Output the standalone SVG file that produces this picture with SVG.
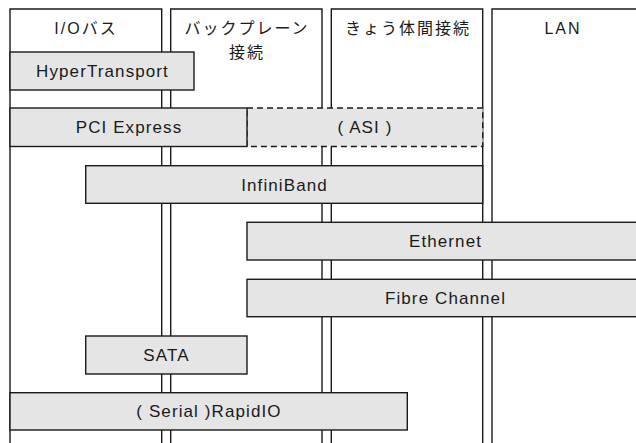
<svg xmlns="http://www.w3.org/2000/svg" width="636" height="443" viewBox="0 0 636 443">
<style>
.col{fill:#fff;stroke:#1a1a1a;stroke-width:1.4}
.bar{fill:#e5e5e5;stroke:#1a1a1a;stroke-width:1.4}
.dash{fill:#e5e5e5;stroke:#1a1a1a;stroke-width:1.4;stroke-dasharray:6 4}
text{font-family:"Liberation Sans","Noto Sans CJK JP",Arial,sans-serif;font-size:17px;fill:#1a1a1a;text-anchor:middle;letter-spacing:1.1px}
.h{font-size:16px;letter-spacing:2px}
</style>
<rect width="636" height="443" fill="#fff"/>
<g id="col-io">
<path class="col" d="M10 445 V9 H161.7 V445"/>
<text class="h" x="86" y="34">I/Oバス</text>
</g>
<g id="col-backplane">
<path class="col" d="M170.7 445 V9 H322 V445"/>
<text class="h" x="247" y="34">バックプレーン</text>
<text class="h" x="247" y="58">接続</text>
</g>
<g id="col-chassis">
<path class="col" d="M331.3 445 V9 H482.7 V445"/>
<text class="h" x="408" y="34">きょう体間接続</text>
</g>
<g id="col-lan">
<path class="col" d="M492 445 V9 H650"/>
<text class="h" x="563" y="34">LAN</text>
</g>
<g id="hypertransport">
<rect class="bar" x="10" y="52" width="184" height="38"/>
<text x="102.5" y="77">HyperTransport</text>
</g>
<g id="asi">
<rect class="dash" x="247" y="108" width="235.7" height="38.5"/>
<text x="365" y="133">( ASI )</text>
</g>
<g id="pci-express">
<rect class="bar" x="10" y="108" width="237" height="38.5"/>
<text x="129" y="133">PCI Express</text>
</g>
<g id="infiniband">
<rect class="bar" x="85.7" y="165.7" width="397" height="37.6"/>
<text x="284.5" y="190.5">InfiniBand</text>
</g>
<g id="ethernet">
<rect class="bar" x="247" y="222.3" width="400" height="37.7"/>
<text x="445.5" y="247">Ethernet</text>
</g>
<g id="fibre-channel">
<rect class="bar" x="247" y="279.3" width="400" height="37.4"/>
<text x="445.5" y="304">Fibre Channel</text>
</g>
<g id="sata">
<rect class="bar" x="85.7" y="336" width="161.3" height="38"/>
<text x="166.5" y="361">SATA</text>
</g>
<g id="rapidio">
<rect class="bar" x="10" y="392.7" width="397.3" height="37.3"/>
<text x="209" y="417">( Serial )RapidIO</text>
</g>
</svg>
